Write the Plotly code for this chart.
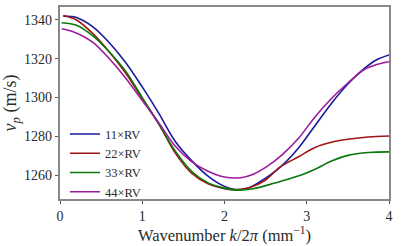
import plotly.graph_objects as go

# 11×RV
x_11 = [0.04, 0.2, 0.4, 0.6, 0.8, 1.0, 1.2, 1.4, 1.6, 1.8, 2.0, 2.15, 2.3, 2.5, 2.63, 2.75, 2.9, 3.1, 3.3, 3.5, 3.7, 3.85, 4.0]
y_11 = [1342, 1341.3, 1336.5, 1328.3, 1318, 1305.5, 1292, 1277.5, 1267.5, 1259.5, 1254.2, 1252.5, 1253.5, 1258.5, 1262.5, 1267, 1274, 1285.5, 1297, 1307, 1315, 1319.5, 1322]
# 22×RV
x_22 = [0.04, 0.2, 0.4, 0.6, 0.8, 1.0, 1.2, 1.4, 1.6, 1.8, 2.0, 2.1, 2.3, 2.5, 2.67, 2.9, 3.1, 3.3, 3.5, 3.75, 4.0]
y_22 = [1342.3, 1340, 1333, 1323.5, 1312.5, 1299.5, 1286.5, 1271.5, 1261, 1255.5, 1253, 1252.5, 1253.5, 1257.5, 1264, 1269.5, 1274.3, 1277, 1278.5, 1279.7, 1280.2]
# 33×RV
x_33 = [0.02, 0.2, 0.4, 0.6, 0.8, 1.0, 1.2, 1.4, 1.6, 1.8, 2.0, 2.15, 2.35, 2.6, 2.8, 2.95, 3.1, 3.3, 3.5, 3.75, 4.0]
y_33 = [1338.6, 1337.3, 1331.8, 1323.5, 1313.5, 1300, 1286.5, 1272.5, 1262, 1256, 1253.3, 1252.3, 1253, 1255.8, 1258.3, 1260.3, 1263, 1267.3, 1270.2, 1271.7, 1272]
# 44×RV
x_44 = [0.02, 0.16, 0.4, 0.6, 0.8, 1.0, 1.2, 1.4, 1.6, 1.8, 2.0, 2.2, 2.35, 2.5, 2.7, 2.9, 3.1, 3.3, 3.5, 3.7, 3.85, 4.0]
y_44 = [1335.5, 1334, 1328.5, 1320, 1310, 1298.5, 1287, 1275, 1267, 1262, 1259, 1258.7, 1260.5, 1264, 1270.5, 1279, 1290, 1299.5, 1307.5, 1314.5, 1317, 1318.5]

names = ["11×RV", "22×RV", "33×RV", "44×RV"]
colors = ["#1a1a9c", "#a01414", "#0a780a", "#9c1a9c"]

x_ticks = [0, 1, 2, 3, 4]
y_ticks = [1260, 1280, 1300, 1320, 1340]

fig = go.Figure()
for xs, ys, n, c in zip([x_11, x_22, x_33, x_44], [y_11, y_22, y_33, y_44], names, colors):
    fig.add_trace(go.Scatter(x=xs, y=ys, mode="lines", name=n,
                             line=dict(color=c, width=1.6, shape="spline", smoothing=0.9)))

font = "Liberation Serif, serif"
fig.update_layout(
    width=409, height=246,
    margin=dict(l=60, r=20, t=5, b=45),
    plot_bgcolor="white", paper_bgcolor="white",
    font=dict(family=font, size=14, color="#2a2a2a"),
    showlegend=True,
    legend=dict(x=0.015, y=0.415, xanchor="left", yanchor="top",
                bgcolor="rgba(0,0,0,0)", font=dict(size=12.5, family=font, color="#2a2a2a"),
                itemwidth=30, tracegroupgap=0),
    xaxis=dict(range=[0, 4], tickvals=x_ticks, ticks="outside", ticklen=3.5,
               tickcolor="#555555", showgrid=False, zeroline=False,
               showline=True, linecolor="#888888", linewidth=1.5, mirror=True,
               tickfont=dict(family=font, size=14),
               title=dict(text="Wavenumber <i>k</i>/2<i>π</i> (mm<sup>−1</sup>)",
                          font=dict(size=16.5, family=font), standoff=5)),
    yaxis=dict(range=[1247.7, 1346.7], tickvals=y_ticks, ticks="outside", ticklen=3.5,
               tickcolor="#555555", showgrid=False, zeroline=False,
               showline=True, linecolor="#888888", linewidth=1.5, mirror=True,
               tickfont=dict(family=font, size=14),
               title=dict(text="<i>v</i><sub><i>p</i></sub> (m/s)",
                          font=dict(size=18, family=font), standoff=6)),
)

fig.write_html("out.html", config={"displayModeBar": False},
               post_script="document.body.style.margin='0';document.body.style.padding='0';")
